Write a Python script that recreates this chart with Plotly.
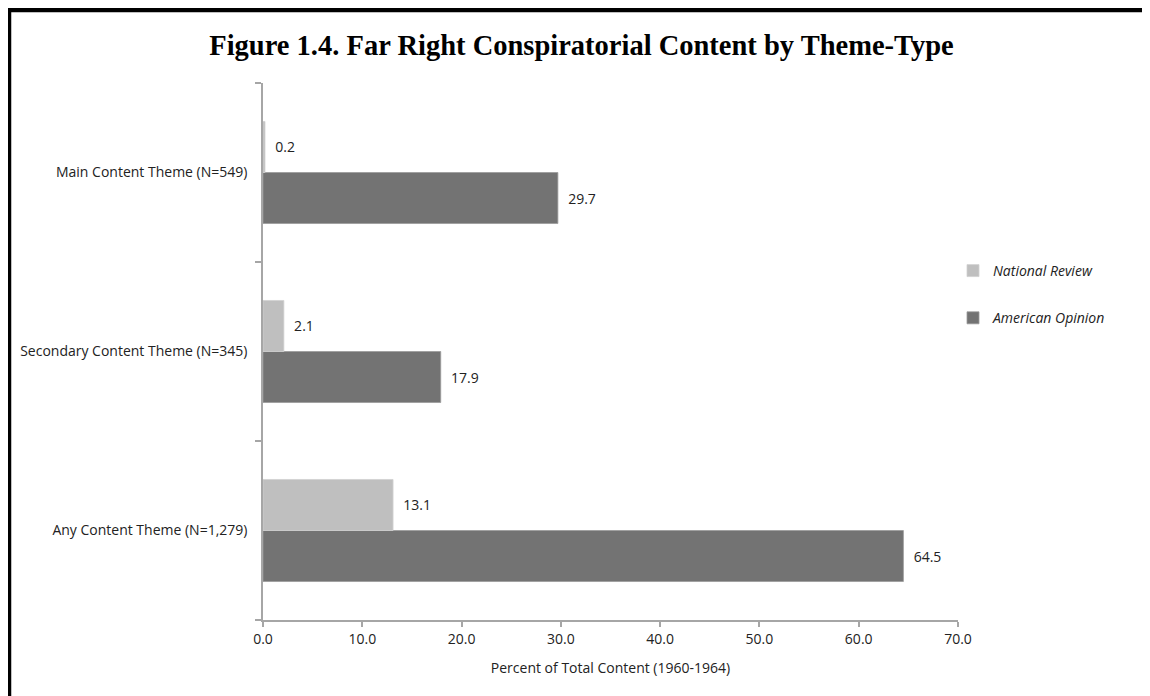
import plotly.graph_objects as go

categories = ["Any Content Theme (N=1,279)", "Secondary Content Theme (N=345)", "Main Content Theme (N=549)"]
national_review = [13.1, 2.1, 0.2]
american_opinion = [64.5, 17.9, 29.7]
x_ticks = [0, 10, 20, 30, 40, 50, 60, 70]
x_tick_labels = ["0.0", "10.0", "20.0", "30.0", "40.0", "50.0", "60.0", "70.0"]

# page body has an 8px margin; figure coordinates below are page coords minus 8
W, H = 1142, 688
ML, MR, MT, MB = 255, 192, 75, 76
PW, PH = W - ML - MR, H - MT - MB

def px_x(px):
    return (px - ML) / PW

def px_y(py):
    return (H - MB - py) / PH

FONT = "Open Sans, Noto Sans, sans-serif"
label_font = dict(family=FONT, size=14, color="#222222")
NB = "\u00a0\u00a0"

fig = go.Figure()
fig.add_trace(go.Bar(
    y=categories, x=american_opinion, orientation="h", name="<i>American Opinion</i>",
    marker=dict(color="#737373", line=dict(color="#9a9a9a", width=0.8)),
    text=[NB + f"{v:.1f}" for v in american_opinion], textposition="outside",
    textfont=label_font, cliponaxis=False, legendgroup="ao", legendrank=2,
))
fig.add_trace(go.Bar(
    y=categories, x=national_review, orientation="h", name="<i>National Review</i>",
    marker=dict(color="#BFBFBF", line=dict(color="#d0d0d0", width=0.8)),
    text=[NB + f"{v:.1f}" for v in national_review], textposition="outside",
    textfont=label_font, cliponaxis=False, legendgroup="nr", legendrank=1,
))

fig.update_layout(
    width=W, height=H,
    margin=dict(l=ML, r=MR, t=MT, b=MB),
    paper_bgcolor="white", plot_bgcolor="white",
    barmode="group", bargap=0.43, bargroupgap=0,
    title=dict(text="<b>Figure 1.4. Far Right Conspiratorial Content by Theme-Type</b>",
               x=573.5 / W, xref="container", xanchor="center", y=1 - 37 / H, yref="container",
               yanchor="middle",
               font=dict(family="Liberation Serif, Times New Roman, serif", size=28.5, color="black")),
    legend=dict(traceorder="grouped", tracegroupgap=26,
                x=px_x(945), y=px_y(247), xanchor="left", yanchor="top",
                font=dict(family=FONT, size=14, color="#222222"),
                itemwidth=30, bgcolor="rgba(0,0,0,0)"),
    xaxis=dict(range=[0, 70], tickvals=x_ticks, ticktext=x_tick_labels,
               showgrid=False, zeroline=False, showline=True, linecolor="#a6a6a6", linewidth=1.5,
               ticks="outside", ticklen=5, tickcolor="#a6a6a6", tickwidth=1.5,
               tickfont=label_font,
               title=dict(text="Percent of Total Content (1960-1964)", font=label_font, standoff=17)),
    yaxis=dict(showgrid=False, showline=True, linecolor="#a6a6a6", linewidth=1.5,
               ticks="outside", ticklen=6, tickcolor="#a6a6a6", tickwidth=1.5,
               tickson="boundaries", tickfont=label_font, ticklabelstandoff=11),
    shapes=[
        dict(type="line", xref="paper", yref="paper",
             x0=px_x(-2), x1=px_x(1150), y0=px_y(2), y1=px_y(2),
             line=dict(color="black", width=4.5)),
        dict(type="line", xref="paper", yref="paper",
             x0=px_x(1.5), x1=px_x(1.5), y0=px_y(0), y1=px_y(700),
             line=dict(color="black", width=3.5)),
    ],
)

fig.write_html("out.html")
